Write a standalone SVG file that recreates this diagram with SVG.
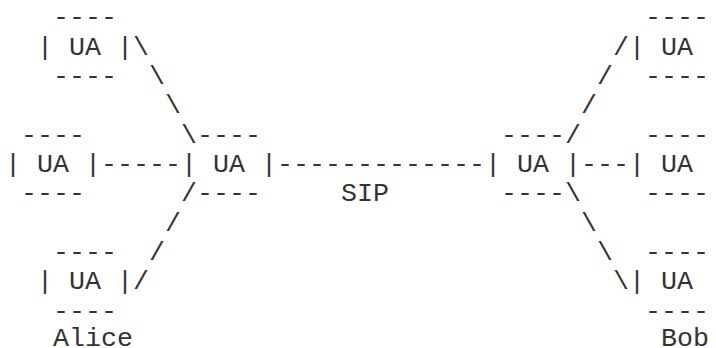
<svg xmlns="http://www.w3.org/2000/svg" width="716" height="348" viewBox="0 0 716 348">
<style>
text { font-family: "Liberation Mono", "Courier New", monospace; font-size: 26.667px; white-space: pre; fill: #333; }
</style>
<rect width="716" height="348" fill="#fff"/>
<g id="connectors">
  <g id="c-tl">
    <text x="133" y="54.6">\</text>
    <text x="149" y="84.0">\</text>
    <text x="165" y="113.3">\</text>
    <text x="181" y="142.6">\</text>
  </g>
  <g id="c-ml"><text x="101" y="172.0">-----</text></g>
  <g id="c-bl">
    <text x="181" y="201.3">/</text>
    <text x="165" y="230.6">/</text>
    <text x="149" y="260.0">/</text>
    <text x="133" y="289.3">/</text>
  </g>
  <g id="c-sip">
    <text x="277" y="172.0">-------------</text>
    <text x="341" y="201.3">SIP</text>
  </g>
  <g id="c-tr">
    <text x="565" y="142.6">/</text>
    <text x="581" y="113.3">/</text>
    <text x="597" y="84.0">/</text>
    <text x="613" y="54.6">/</text>
  </g>
  <g id="c-mr"><text x="581" y="172.0">---</text></g>
  <g id="c-br">
    <text x="565" y="201.3">\</text>
    <text x="581" y="230.6">\</text>
    <text x="597" y="260.0">\</text>
    <text x="613" y="289.3">\</text>
  </g>
</g>
<g id="ua-top-left">
  <text x="53" y="25.3">----</text>
  <text x="37" y="54.6">| UA |</text>
  <text x="53" y="84.0">----</text>
</g>
<g id="ua-mid-left">
  <text x="21" y="142.6">----</text>
  <text x="5" y="172.0">| UA |</text>
  <text x="21" y="201.3">----</text>
</g>
<g id="ua-alice">
  <text x="53" y="260.0">----</text>
  <text x="37" y="289.3">| UA |</text>
  <text x="53" y="318.6">----</text>
  <text x="53" y="346.0">Alice</text>
</g>
<g id="ua-proxy-left">
  <text x="197" y="142.6">----</text>
  <text x="181" y="172.0">| UA |</text>
  <text x="197" y="201.3">----</text>
</g>
<g id="ua-proxy-right">
  <text x="501" y="142.6">----</text>
  <text x="485" y="172.0">| UA |</text>
  <text x="501" y="201.3">----</text>
</g>
<g id="ua-top-right">
  <text x="645" y="25.3">----</text>
  <text x="629" y="54.6">| UA</text>
  <text x="645" y="84.0">----</text>
</g>
<g id="ua-mid-right">
  <text x="645" y="142.6">----</text>
  <text x="629" y="172.0">| UA</text>
  <text x="645" y="201.3">----</text>
</g>
<g id="ua-bob">
  <text x="645" y="260.0">----</text>
  <text x="629" y="289.3">| UA</text>
  <text x="645" y="318.6">----</text>
  <text x="661" y="346.0">Bob</text>
</g>
</svg>
